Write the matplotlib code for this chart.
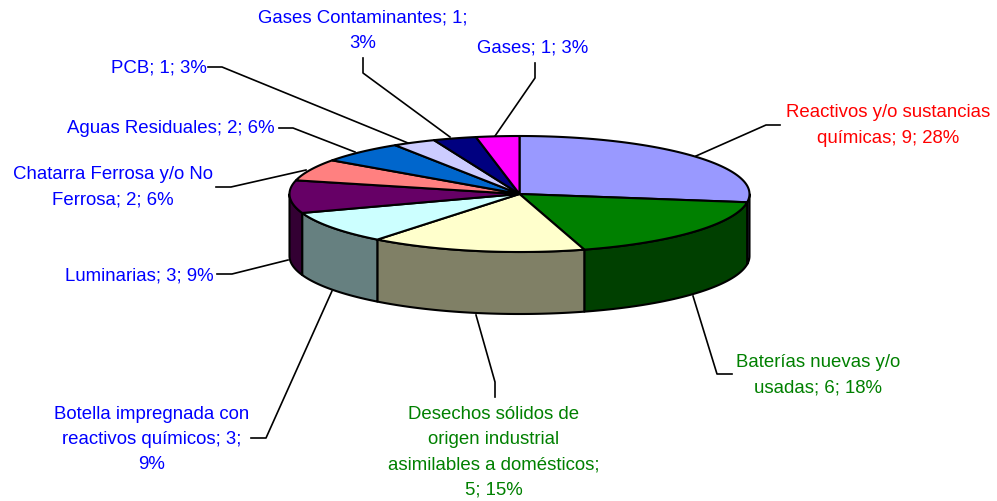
import numpy as np
import matplotlib
matplotlib.use("Agg")
import matplotlib.pyplot as plt
from matplotlib.patches import Polygon

plt.rcParams['font.family'] = ['Liberation Sans', 'DejaVu Sans']

# slices go clockwise from 12 o'clock
labels = ["Reactivos y/o sustancias\nquímicas; 9; 28%", "Baterías nuevas y/o\nusadas; 6; 18%",
          "Desechos sólidos de\norigen industrial\nasimilables a domésticos;\n5; 15%",
          "Botella impregnada con\nreactivos químicos; 3;\n9%",
          "Luminarias; 3; 9%", "Chatarra Ferrosa y/o No\nFerrosa; 2; 6%", "Aguas Residuales; 2; 6%",
          "PCB; 1; 3%", "Gases Contaminantes; 1;\n3%", "Gases; 1; 3%"]
values = [9, 6, 5, 3, 3, 2, 2, 1, 1, 1]

top_colors = ["#9999FF", "#008000", "#FFFFCC", "#CCFFFF", "#660066",
              "#FF8080", "#0066CC", "#CCCCFF", "#000080", "#FF00FF"]
side_colors = ["#4D4D80", "#004000", "#808066", "#668080", "#330033",
               "#804040", "#003366", "#666680", "#000040", "#800080"]
label_colors = ["#FF0000", "#008000", "#008000", "#0000FF", "#0000FF",
                "#0000FF", "#0000FF", "#0000FF", "#0000FF", "#0000FF"]

# label text anchors, pixels
label_xy = [(888, 125.5), (818, 375.5), (494, 452.5), (152, 439.5), (139.5, 276),
            (113, 187.5), (170.5, 129), (159, 68), (363, 31), (533, 48)]
# leader lines, pixels
leaders = [[(696, 157), (766, 126), (780, 126)],
           [(693, 297), (717, 375), (732, 375)],
           [(476, 316), (495, 383), (495, 398)],
           [(332, 292), (266, 439), (251, 439)],
           [(288, 261), (232, 275), (217, 275)],
           [(306, 171), (231, 188), (216, 188)],
           [(355, 153), (293, 129), (279, 129)],
           [(408, 144), (222, 68), (208, 68)],
           [(450, 138), (363, 74), (363, 59)],
           [(495, 137), (535, 79), (535, 64)]]

cx, cy = 519.5, 195
rx, ry = 230, 58
depth = 62

def rim(a0, a1, n=80):
    t = np.linspace(a0, a1, n)
    return cx + rx * np.sin(t), cy - ry * np.cos(t)

fig = plt.figure(figsize=(9.97, 5.02), dpi=100)
ax = fig.add_axes([0, 0, 1, 1])
ax.set_xlim(0, 997)
ax.set_ylim(502, 0)
ax.axis('off')

bounds = np.concatenate([[0], np.cumsum(values)]) / sum(values) * 2 * np.pi

# side wall, only the front half of the rim shows
for i in range(len(values)):
    a0 = max(bounds[i], np.pi / 2)
    a1 = min(bounds[i + 1], 3 * np.pi / 2)
    if a1 <= a0:
        continue
    x, y = rim(a0, a1)
    pts = np.concatenate([np.c_[x, y], np.c_[x[::-1], y[::-1] + depth]])
    ax.add_patch(Polygon(pts, closed=True, facecolor=side_colors[i],
                         edgecolor='black', linewidth=1.5, joinstyle='round', zorder=2))

# top face
for i in range(len(values)):
    x, y = rim(bounds[i], bounds[i + 1])
    pts = np.concatenate([[(cx, cy)], np.c_[x, y]])
    ax.add_patch(Polygon(pts, closed=True, facecolor=top_colors[i],
                         edgecolor='black', linewidth=1.5, joinstyle='round', zorder=3))

for line in leaders:
    xs, ys = zip(*line)
    ax.plot(xs, ys, color='black', linewidth=1.2, zorder=1)

for i in range(len(values)):
    ax.text(label_xy[i][0], label_xy[i][1], labels[i], color=label_colors[i], fontsize=13.45,
            ha='center', va='center', linespacing=1.63, zorder=4)

fig.savefig("out.png", dpi=100)
